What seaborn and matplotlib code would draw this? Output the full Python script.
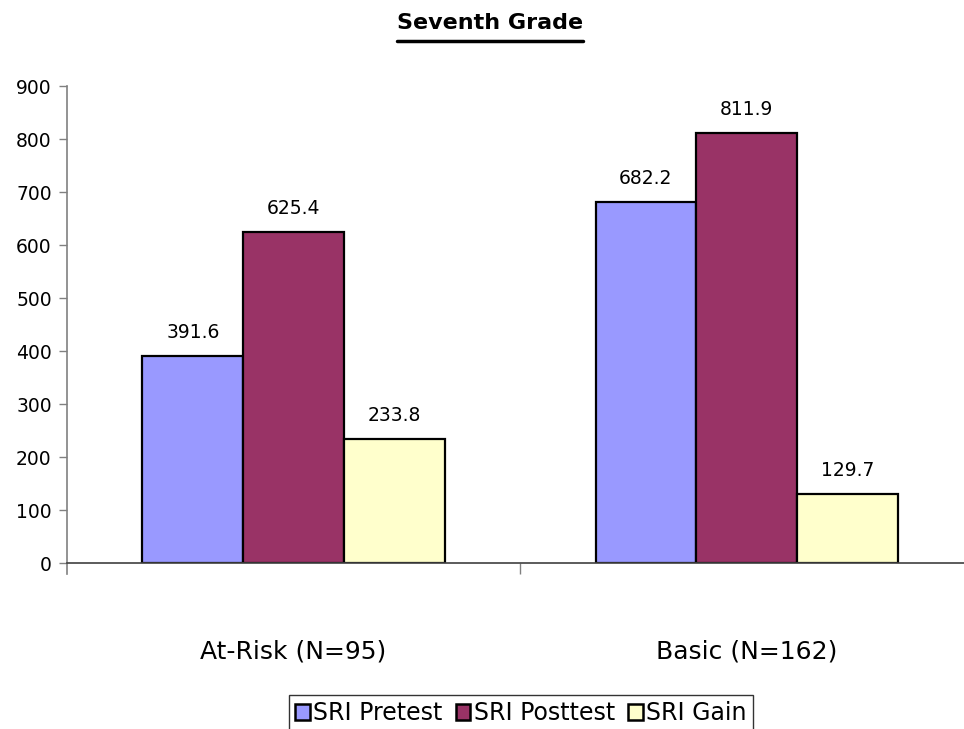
import matplotlib
matplotlib.use("Agg")
import matplotlib.pyplot as plt
from matplotlib.lines import Line2D
from matplotlib.ticker import FixedLocator
import seaborn as sns
import pandas as pd

# Mean SRI scores by group
groups = ["At-Risk (N=95)", "Basic (N=162)"]
pretest = [391.6, 682.2]
posttest = [625.4, 811.9]
gain = [233.8, 129.7]
series = ["SRI Pretest", "SRI Posttest", "SRI Gain"]
colors = ["#9999FF", "#993366", "#FFFFCC"]
yticks = [0, 100, 200, 300, 400, 500, 600, 700, 800, 900]

df = pd.DataFrame({
    "group": groups * 3,
    "series": [series[0]] * 2 + [series[1]] * 2 + [series[2]] * 2,
    "score": pretest + posttest + gain,
})

sns.set_theme(style="white")
plt.rcParams["font.family"] = ["DejaVu Sans"]

fig = plt.figure(figsize=(9.64, 7.29), dpi=100)
ax = fig.add_axes([0.0695, 0.2277, 0.940, 0.654])

sns.barplot(data=df, x="group", y="score", hue="series", hue_order=series,
            order=groups, palette=colors, width=0.667, edgecolor="black",
            linewidth=1.6, saturation=1, ax=ax, legend=True)

for cont in ax.containers:
    ax.bar_label(cont, fmt="%.1f", padding=10, fontsize=13.5, color="black")

ax.set_xlim(-0.5, 1.5)
ax.set_ylim(0, 900)
ax.set_yticks(yticks)
ax.set_xlabel("")
ax.set_ylabel("")
ax.tick_params(axis="y", labelsize=13.5, length=6, width=1, color="#808080",
               left=True, pad=5, labelcolor="black")
ax.tick_params(axis="x", which="major", length=0, pad=55, labelsize=18,
               labelcolor="black")
ax.xaxis.set_minor_locator(FixedLocator([0.5]))
ax.tick_params(axis="x", which="minor", bottom=True, length=8, width=1,
               color="#808080", direction="out")

for s in ["top", "right"]:
    ax.spines[s].set_visible(False)
ax.spines["left"].set_color("#808080")
ax.spines["left"].set_linewidth(1.2)
ax.spines["left"].set_bounds(-20, 900)
ax.spines["bottom"].set_color("#404040")
ax.spines["bottom"].set_linewidth(1.2)

handles, labels = ax.get_legend_handles_labels()
ax.get_legend().remove()
leg = fig.legend(handles, labels, loc="upper center",
                 bbox_to_anchor=(0.5405, 0.046), ncol=3, fontsize=17,
                 labelcolor="black",
                 frameon=True, fancybox=False, handlelength=0.62,
                 handleheight=0.62, handletextpad=0.15, columnspacing=0.55,
                 borderpad=0.25, borderaxespad=0)
leg.get_frame().set_edgecolor("black")
leg.get_frame().set_linewidth(1.0)
for h in leg.legend_handles:
    h.set_edgecolor("black")
    h.set_linewidth(1.8)

title = fig.text(0.508, 0.968, "Seventh Grade", ha="center", va="center",
                 fontsize=16, fontweight="bold", color="black")

# underline the title
fig.canvas.draw()
bb = title.get_window_extent(fig.canvas.get_renderer())
bbf = bb.transformed(fig.transFigure.inverted())
uy = bbf.y0 - 0.010
fig.add_artist(Line2D([bbf.x0, bbf.x1], [uy, uy],
                      transform=fig.transFigure, color="black", linewidth=2.5))

fig.savefig("out.png", dpi=100)
